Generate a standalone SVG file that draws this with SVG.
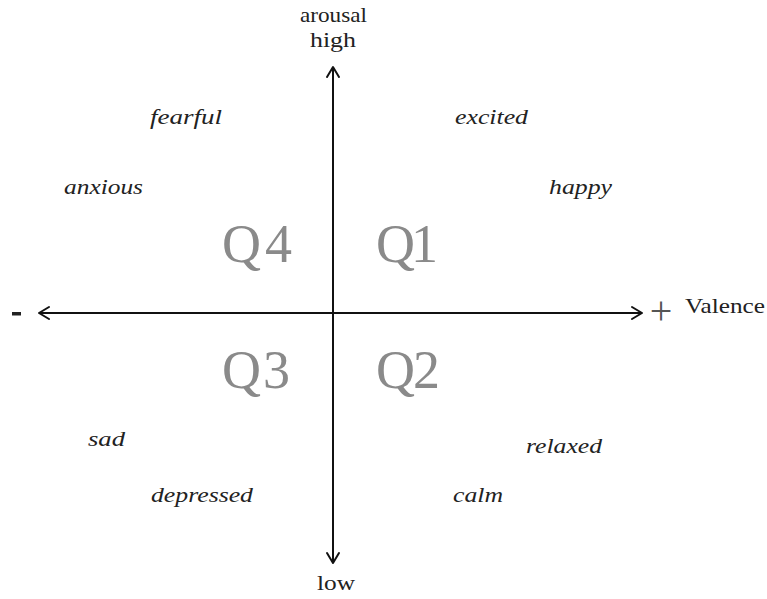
<svg xmlns="http://www.w3.org/2000/svg" width="767" height="599" viewBox="0 0 767 599">
<style>
.ax{stroke:#111;stroke-width:2;fill:none}
.ah{stroke:#111;stroke-width:2;fill:none;stroke-linecap:round;stroke-linejoin:round}
.lb{font-family:"Liberation Serif",serif;font-size:21px;fill:#222}
.pl{font-family:"Liberation Serif",serif;font-size:40px;fill:#555}
.q{font-family:"Liberation Serif",serif;font-size:54px;fill:#8a8a8a}
.em{font-family:"Liberation Serif",serif;font-style:italic;font-size:21px;fill:#222}
</style>
<rect width="767" height="599" fill="#fff"/>
<g id="connectors">
<line class="ax" x1="333" y1="67" x2="333" y2="563"/>
<line class="ax" x1="39" y1="313" x2="642" y2="313"/>
<polyline class="ah" points="327,77 333,67 339,77"/>
<polyline class="ah" points="327,553 333,563 339,553"/>
<polyline class="ah" points="49,307 39,313 49,319"/>
<polyline class="ah" points="632,307 642,313 632,319"/>
</g>
<g id="axis-labels">
<text class="lb" x="300" y="22" textLength="67" lengthAdjust="spacingAndGlyphs">arousal</text>
<text class="lb" x="310" y="47" textLength="46" lengthAdjust="spacingAndGlyphs">high</text>
<text class="lb" x="317" y="590" textLength="38" lengthAdjust="spacingAndGlyphs">low</text>
<rect x="12" y="312" width="9" height="3.5" fill="#222"/>
<text class="pl" x="661" y="324" text-anchor="middle">+</text>
<text class="lb" x="685" y="313" textLength="80" lengthAdjust="spacingAndGlyphs">Valence</text>
</g>
<g id="quadrants">
<text class="q" x="222" y="262" textLength="70">Q4</text>
<text class="q" x="376" y="262" textLength="62">Q1</text>
<text class="q" x="222" y="388" textLength="68">Q3</text>
<text class="q" x="376" y="388" textLength="64">Q2</text>
</g>
<g id="emotions">
<text class="em" x="150" y="124" textLength="72" lengthAdjust="spacingAndGlyphs">fearful</text>
<text class="em" x="455" y="124" textLength="73" lengthAdjust="spacingAndGlyphs">excited</text>
<text class="em" x="64" y="194" textLength="79" lengthAdjust="spacingAndGlyphs">anxious</text>
<text class="em" x="549" y="194" textLength="63" lengthAdjust="spacingAndGlyphs">happy</text>
<text class="em" x="88" y="446" textLength="37" lengthAdjust="spacingAndGlyphs">sad</text>
<text class="em" x="526" y="453" textLength="76" lengthAdjust="spacingAndGlyphs">relaxed</text>
<text class="em" x="151" y="502" textLength="102" lengthAdjust="spacingAndGlyphs">depressed</text>
<text class="em" x="453" y="502" textLength="50" lengthAdjust="spacingAndGlyphs">calm</text>
</g>
</svg>
